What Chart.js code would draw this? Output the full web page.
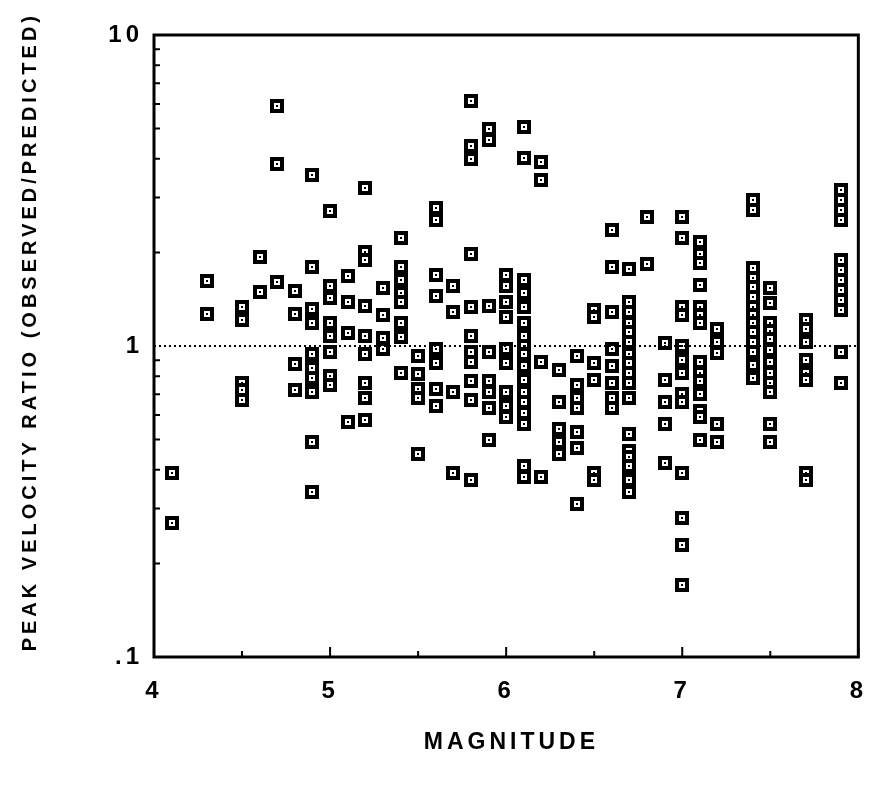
<!DOCTYPE html>
<html>
<head>
<meta charset="utf-8">
<script src="https://cdn.jsdelivr.net/npm/chart.js@4.4.1/dist/chart.umd.min.js"></script>
<style>
  html, body { margin: 0; padding: 0; background: #fff; }
</style>
</head>
<body>
<canvas id="chart" width="877" height="785"></canvas>
<script>
// magnitude of each column of points, and the ratios read at that magnitude
var magnitudes = [4.1, 4.3, 4.5, 4.6, 4.7, 4.8, 4.9, 5.0, 5.1, 5.2, 5.3, 5.4, 5.5, 5.6, 5.7, 5.8, 5.9,
  6.0, 6.1, 6.2, 6.3, 6.4, 6.5, 6.6, 6.7, 6.8, 6.9, 7.0, 7.1, 7.2, 7.4, 7.5, 7.7, 7.9];

var ratioColumns = [
  [0.39, 0.27],
  [1.62, 1.27],
  [1.33, 1.21, 0.76, 0.72, 0.67],
  [1.93, 1.49],
  [5.9, 3.85, 1.61],
  [1.50, 1.27, 0.875, 0.72],
  [3.55, 1.80, 1.32, 1.19, 0.94, 0.85, 0.79, 0.71, 0.49, 0.34],
  [2.72, 1.56, 1.43, 1.19, 1.08, 0.96, 0.80, 0.75],
  [1.68, 1.38, 1.10, 0.57],
  [3.22, 2.0, 1.89, 1.34, 1.08, 0.94, 0.76, 0.68, 0.58],
  [1.54, 1.26, 1.06, 0.98],
  [2.22, 1.80, 1.63, 1.48, 1.38, 1.19, 1.07, 0.82],
  [0.93, 0.81, 0.73, 0.68, 0.45],
  [2.78, 2.54, 1.69, 1.45, 0.98, 0.88, 0.73, 0.64],
  [1.56, 1.29, 0.71, 0.39],
  [6.13, 4.4, 4.0, 1.97, 1.33, 1.08, 0.96, 0.89, 0.77, 0.67, 0.37],
  [4.99, 4.6, 1.34, 0.96, 0.77, 0.71, 0.63, 0.50],
  [1.69, 1.56, 1.38, 1.24, 0.98, 0.88, 0.71, 0.64, 0.59],
  [5.06, 4.02, 1.63, 1.48, 1.33, 1.19, 1.08, 1.0, 0.94, 0.86, 0.78, 0.71, 0.66, 0.61, 0.56, 0.41, 0.38],
  [3.9, 3.42, 0.89, 0.38],
  [0.84, 0.66, 0.54, 0.49, 0.45],
  [0.93, 0.75, 0.68, 0.63, 0.53, 0.47, 0.31],
  [1.31, 1.24, 0.88, 0.78, 0.39, 0.37],
  [2.36, 1.80, 1.29, 0.98, 0.86, 0.76, 0.68, 0.63],
  [1.77, 1.38, 1.29, 1.19, 1.11, 1.03, 0.94, 0.88, 0.82, 0.76, 0.68, 0.52, 0.46, 0.44, 0.41, 0.37, 0.34],
  [2.6, 1.84],
  [1.02, 0.78, 0.66, 0.56, 0.42],
  [2.6, 2.22, 1.33, 1.26, 1.0, 0.90, 0.82, 0.70, 0.66, 0.39, 0.28, 0.23, 0.17],
  [2.16, 1.98, 1.85, 1.57, 1.33, 1.26, 1.19, 0.89, 0.82, 0.77, 0.70, 0.62, 0.59, 0.50],
  [1.13, 1.03, 0.95, 0.56, 0.49],
  [2.95, 2.73, 1.78, 1.65, 1.55, 1.44, 1.33, 1.26, 1.19, 1.11, 1.03, 0.96, 0.87, 0.79],
  [1.54, 1.37, 1.19, 1.12, 1.05, 0.97, 0.89, 0.82, 0.76, 0.71, 0.56, 0.49],
  [1.21, 1.13, 1.03, 0.90, 0.82, 0.78, 0.39, 0.37],
  [3.17, 2.95, 2.73, 2.54, 1.89, 1.76, 1.63, 1.51, 1.41, 1.31, 0.96, 0.76]
];

var xTickValues = [4, 5, 6, 7, 8];
var xMinorTicks = [4.5, 5.5, 6.5, 7.5];
var yTickValues = [0.1, 1, 10];
var yTickLabels = ['.1', '1', '10'];
var yMinorTicks = [0.2, 0.3, 0.4, 0.5, 0.6, 0.7, 0.8, 0.9, 2, 3, 4, 5, 6, 7, 8, 9];
var referenceRatio = 1;

var points = [];
magnitudes.forEach(function(m, i) {
  ratioColumns[i].forEach(function(r) { points.push({ x: m, y: r }); });
});

// hollow square with a dot in the middle
var marker = document.createElement('canvas');
marker.width = 14;
marker.height = 14;
var mctx = marker.getContext('2d');
mctx.fillStyle = '#000';
mctx.fillRect(0, 0, 14, 14);
mctx.fillStyle = '#fff';
mctx.fillRect(4, 4, 6, 6);
mctx.fillStyle = '#000';
mctx.fillRect(6, 6, 2, 2);

var font = 'Liberation Sans, Arial, sans-serif';

var framePlugin = {
  id: 'frame',
  beforeDraw: function(chart) {
    chart.ctx.letterSpacing = '4px';
    chart.ctx.imageSmoothingEnabled = false;
  },
  afterDraw: function(chart) {
    var ctx = chart.ctx;
    var a = chart.chartArea;
    var xs = chart.scales.x, ys = chart.scales.y;
    ctx.save();
    ctx.strokeStyle = '#000';
    ctx.lineWidth = 3;
    ctx.strokeRect(a.left, a.top, a.right - a.left, a.bottom - a.top);
    ctx.lineWidth = 2;
    ctx.beginPath();
    yMinorTicks.forEach(function(v) {
      var y = ys.getPixelForValue(v);
      ctx.moveTo(a.left, y); ctx.lineTo(a.left + 6, y);
    });
    xTickValues.forEach(function(v) {
      var x = xs.getPixelForValue(v);
      ctx.moveTo(x, a.bottom); ctx.lineTo(x, a.bottom - 10);
    });
    xMinorTicks.forEach(function(v) {
      var x = xs.getPixelForValue(v);
      ctx.moveTo(x, a.bottom); ctx.lineTo(x, a.bottom - 6);
    });
    ctx.stroke();
    ctx.restore();
  }
};

new Chart(document.getElementById('chart'), {
  type: 'scatter',
  data: {
    datasets: [{
      type: 'line',
      data: [{ x: 4, y: referenceRatio }, { x: 8, y: referenceRatio }],
      borderColor: '#000',
      borderWidth: 2,
      borderDash: [2, 3],
      pointRadius: 0
    }, {
      data: points,
      pointStyle: marker,
      pointRadius: 7,
      backgroundColor: '#000',
      borderColor: '#000'
    }]
  },
  options: {
    responsive: false,
    animation: false,
    devicePixelRatio: 1,
    layout: { padding: { top: 35, right: 8, left: 0, bottom: 0 } },
    plugins: { legend: { display: false }, tooltip: { enabled: false } },
    scales: {
      x: {
        type: 'linear',
        min: 4,
        max: 8,
        afterBuildTicks: function(s) { s.ticks = xTickValues.map(function(v) { return { value: v }; }); },
        afterFit: function(s) { s.height = 128; },
        grid: { display: false },
        border: { display: false },
        ticks: {
          color: '#000',
          padding: 12,
          font: { family: font, size: 24, weight: 'bold' }
        },
        title: {
          display: true,
          text: ' MAGNITUDE',
          color: '#000',
          padding: { top: 0, bottom: 29 },
          font: { family: font, size: 23, weight: 'bold' }
        }
      },
      y: {
        type: 'logarithmic',
        min: 0.1,
        max: 10,
        afterBuildTicks: function(s) { s.ticks = yTickValues.map(function(v) { return { value: v }; }); },
        afterFit: function(s) { s.width = 154; },
        grid: { display: false },
        border: { display: false },
        ticks: {
          color: '#000',
          padding: 3,
          font: { family: font, size: 24, weight: 'bold' },
          callback: function(v, i) { return yTickLabels[i]; }
        },
        title: {
          display: true,
          text: '   PEAK VELOCITY RATIO (OBSERVED/PREDICTED)',
          color: '#000',
          padding: { top: 18, bottom: 0 },
          font: { family: font, size: 20, weight: 'bold' }
        }
      }
    }
  },
  plugins: [framePlugin]
});
</script>
</body>
</html>
